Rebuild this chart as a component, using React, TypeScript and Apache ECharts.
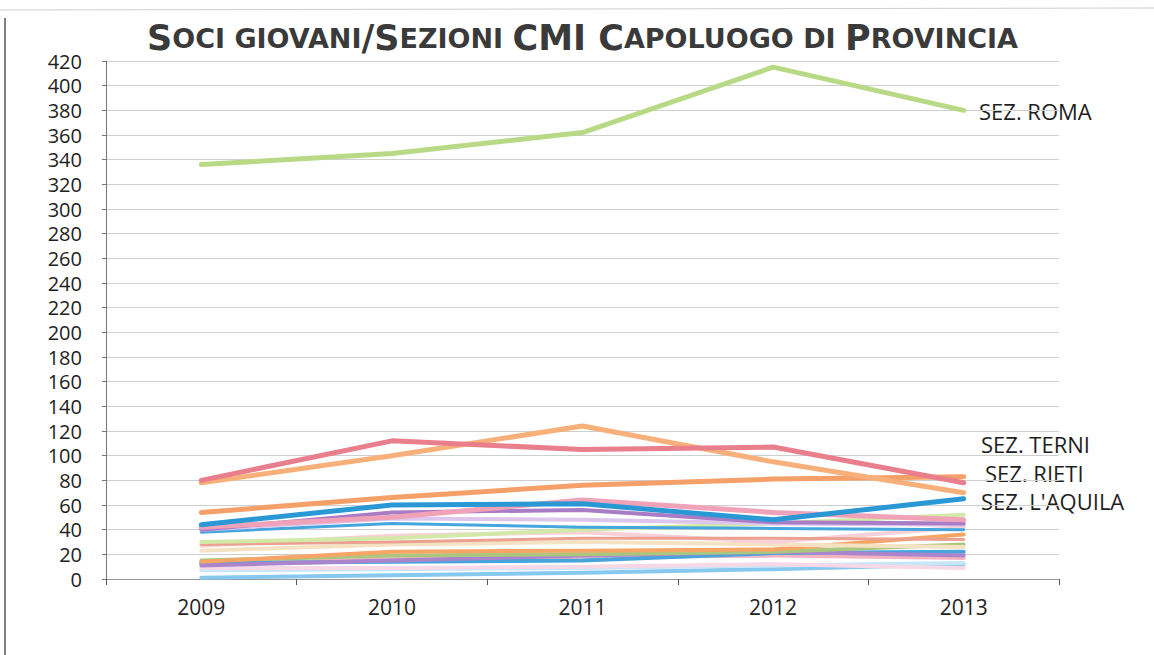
import React, { useEffect, useRef } from "react";
import * as echarts from "echarts";

const years = ["2009", "2010", "2011", "2012", "2013"];
const yTicks = { min: 0, max: 420, interval: 20 };

const roma = [336, 345, 362, 415, 380];
const terni = [80, 112, 105, 107, 78];
const orangePeak = [78, 100, 124, 95, 70];
const rieti = [54, 66, 76, 81, 83];
const aquila = [44, 60, 61, 48, 65];
const pinkA = [42, 50, 64, 54, 48];
const purpleA = [40, 54, 56, 46, 45];
const lavender = [40, 49, 48, 45, 44];
const blueB = [38, 45, 42, 41, 40];
const lightGreen = [30, 33, 40, 45, 52];
const salmonThin = [28, 30, 33, 33, 32];
const palePink = [27, 35, 38, 30, 42];
const paleYellow = [23, 28, 30, 28, 26];
const orangeLow = [14, 22, 23, 24, 36];
const olive = [15, 19, 20, 22, 28];
const purpleLow = [11, 15, 19, 22, 19];
const blueLow = [13, 14, 15, 21, 22];
const pinkLow = [12, 16, 18, 19, 17];
const lightPink = [9, 9, 10, 12, 9];
const veryLightBlue = [7, 8, 9, 11, 13];
const lightBlueBottom = [1, 3, 5, 8, 12];

const seriesDefs = [
  { name: "Sez. 21", data: lightBlueBottom, color: "#86c8ee", width: 4 },
  { name: "Sez. 20", data: veryLightBlue, color: "#c6e5f7", width: 4 },
  { name: "Sez. 19", data: lightPink, color: "#f6d8e6", width: 4 },
  { name: "Sez. 18", data: pinkLow, color: "#f3b3c3", width: 4 },
  { name: "Sez. 17", data: blueLow, color: "#4aa4dc", width: 4 },
  { name: "Sez. 16", data: purpleLow, color: "#ab85cc", width: 4 },
  { name: "Sez. 15", data: olive, color: "#abc67e", width: 4 },
  { name: "Sez. 14", data: orangeLow, color: "#f6a566", width: 4 },
  { name: "Sez. 13", data: paleYellow, color: "#f5e2c2", width: 4 },
  { name: "Sez. 12", data: palePink, color: "#f8d0d8", width: 4 },
  { name: "Sez. 11", data: salmonThin, color: "#eba090", width: 3 },
  { name: "Sez. 10", data: lightGreen, color: "#d3e9a8", width: 4 },
  { name: "Sez. 9", data: blueB, color: "#45a6de", width: 3 },
  { name: "Sez. 8", data: lavender, color: "#ddc6ee", width: 4 },
  { name: "Sez. 7", data: purpleA, color: "#a97cc6", width: 4 },
  { name: "Sez. 6", data: pinkA, color: "#f0a2b8", width: 5 },
  { name: "Sez. L'Aquila", data: aquila, color: "#2b98d6", width: 5 },
  { name: "Sez. Rieti", data: rieti, color: "#f4a068", width: 5 },
  { name: "Sez. 3", data: orangePeak, color: "#f8b07a", width: 5 },
  { name: "Sez. Terni", data: terni, color: "#e97e8c", width: 5 },
  { name: "Sez. Roma", data: roma, color: "#b8da86", width: 5 },
];

const sideLabels = [
  { text: "SEZ. ROMA", x: 979, y: 111 },
  { text: "SEZ. TERNI", x: 981, y: 444 },
  { text: "SEZ. RIETI", x: 985, y: 473 },
  { text: "SEZ. L'AQUILA", x: 981, y: 501 },
];

export default function App() {
  const ref = useRef<HTMLDivElement>(null);
  useEffect(() => {
    document.body.style.margin = "0";
    if (!ref.current) return;
    const chart = echarts.init(ref.current, null, { renderer: "svg" });
    const bigStyle = { fontSize: 35, fontWeight: "bold", fontFamily: "DejaVu Sans", fill: "#3a3a3a" };
    const smallStyle = { fontSize: 27, fontWeight: "bold", fontFamily: "DejaVu Sans", fill: "#3a3a3a" };
    chart.setOption({
      animation: false,
      backgroundColor: "#ffffff",
      grid: { left: 106, right: 95, top: 61, bottom: 76, containLabel: false },
      xAxis: {
        type: "category",
        data: years,
        boundaryGap: true,
        axisLine: { show: true, lineStyle: { color: "#9a9a9a", width: 1 } },
        axisTick: { show: true, length: 6, lineStyle: { color: "#555" } },
        axisLabel: {
          fontFamily: "Open Sans",
          fontSize: 21,
          color: "#222",
          margin: 17,
        },
        splitLine: { show: false },
      },
      yAxis: {
        type: "value",
        min: yTicks.min,
        max: yTicks.max,
        interval: yTicks.interval,
        axisLine: { show: true, lineStyle: { color: "#777", width: 1 } },
        axisTick: { show: true, length: 4, lineStyle: { color: "#777" } },
        axisLabel: {
          fontFamily: "Open Sans",
          fontSize: 20,
          lineHeight: 20,
          color: "#222",
          margin: 24,
        },
        splitLine: { show: true, lineStyle: { color: "#cfcfcf", width: 1 } },
      },
      series: seriesDefs.map((s) => ({
        name: s.name,
        type: "line",
        data: s.data,
        symbol: "none",
        smooth: false,
        lineStyle: { color: s.color, width: s.width, cap: "round", join: "round" },
        itemStyle: { color: s.color },
        emphasis: { disabled: true },
      })),
      graphic: [
        { type: "line", shape: { x1: 0, y1: 10, x2: 1154, y2: 8 }, style: { stroke: "#cfcfcf", lineWidth: 1 } },
        { type: "line", shape: { x1: 5, y1: 18, x2: 5, y2: 655 }, style: { stroke: "#555", lineWidth: 1.5 } },
        {
          type: "text",
          x: 147,
          y: 38,
          style: {
            text:
              "{b|S}{s|OCI GIOVANI}{b|/S}{s|EZIONI }{b|CMI C}{s|APOLUOGO DI }{b|P}{s|ROVINCIA}",
            verticalAlign: "middle",
            rich: { b: bigStyle, s: smallStyle },
          },
        },
        ...sideLabels.map((l) => ({
          type: "text",
          x: l.x,
          y: l.y,
          style: {
            text: l.text,
            fontFamily: "Open Sans",
            fontSize: 22,
            lineHeight: 22,
            fill: "#1e1e1e",
            verticalAlign: "middle",
          },
        })),
      ],
    });
    return () => chart.dispose();
  }, []);
  return <div ref={ref} style={{ width: 1154, height: 655 }} />;
}
